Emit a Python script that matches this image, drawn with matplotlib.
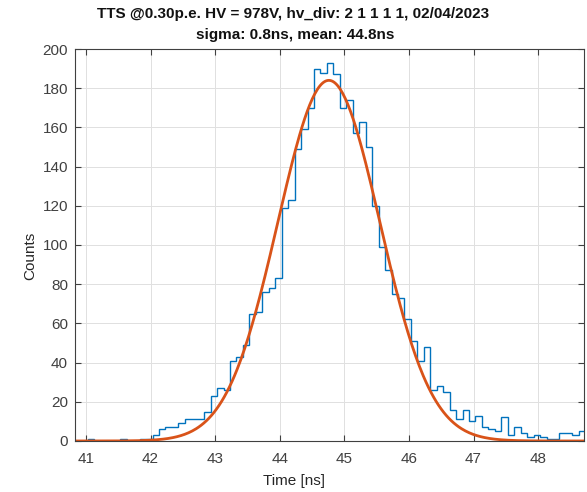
import numpy as np
import matplotlib
matplotlib.use('Agg')
import matplotlib.pyplot as plt

# histogram: 0.1 ns bins starting at 40.83 ns
bin_start = 40.83
bin_width = 0.1
counts = [0, 0, 1, 0, 0, 0, 0, 1, 0, 0,
          1, 1, 3, 6, 7, 7, 9, 11, 11, 11,
          15, 23, 27, 26, 41, 43, 49, 65, 66, 76,
          78, 83, 119, 123, 149, 159, 170, 190, 188, 193,
          187, 170, 174, 157, 163, 150, 120, 99, 87, 75,
          73, 62, 51, 41, 48, 26, 28, 25, 16, 11,
          16, 10, 13, 7, 6, 5, 12, 3, 7, 4,
          2, 3, 2, 1, 1, 4, 4, 3, 5]

# gaussian fit
fit_amp = 184
fit_mean = 44.76
fit_sigma = 0.79

x_lim = (40.83, 48.71)
x_ticks = [41, 42, 43, 44, 45, 46, 47, 48]
y_ticks = list(range(0, 201, 20))

edges = bin_start + bin_width * np.arange(len(counts) + 1)

plt.rcParams['font.family'] = ['Liberation Sans', 'DejaVu Sans']

fig = plt.figure(figsize=(5.87, 4.92), dpi=100)
ax = fig.add_axes([0.1278, 0.1037, 0.8671, 0.7967])

ax.stairs(counts, edges, color='#0072BD', linewidth=1.0, baseline=0)

xf = np.linspace(x_lim[0], x_lim[1], 400)
yf = fit_amp * np.exp(-0.5 * ((xf - fit_mean) / fit_sigma) ** 2)
ax.plot(xf, yf, color='#D95319', linewidth=2.0)

ax.set_xlim(x_lim)
ax.set_ylim(0, 200)
ax.set_xticks(x_ticks)
ax.set_yticks(y_ticks)
ax.tick_params(direction='in', top=True, right=True, length=4,
               labelsize=11, colors='#404040', width=0.8)
ax.tick_params(axis='x', pad=8)
ax.tick_params(axis='y', pad=5)
ax.grid(True, color='#e0e0e0', linewidth=0.7)
ax.set_axisbelow(True)
for s in ax.spines.values():
    s.set_color('#404040')
    s.set_linewidth(0.8)

# title lines (centred on the figure as in the original)
fig.text(0.5, 1 - 14 / 492, 'TTS @0.30p.e. HV = 978V, hv_div: 2 1 1 1 1, 02/04/2023',
         ha='center', va='center', fontsize=11, fontweight='bold', color='#111111')
fig.text(0.503, 1 - 35 / 492, 'sigma: 0.8ns, mean: 44.8ns',
         ha='center', va='center', fontsize=11, fontweight='bold', color='#111111')

ax.set_xlabel('Time [ns]', fontsize=11, color='#262626', va='center')
ax.xaxis.set_label_coords(0.431, -0.102)
ax.set_ylabel('Counts', fontsize=11, color='#262626', va='center')
ax.yaxis.set_label_coords(-0.088, 0.472)

fig.savefig('out.png', dpi=100)
